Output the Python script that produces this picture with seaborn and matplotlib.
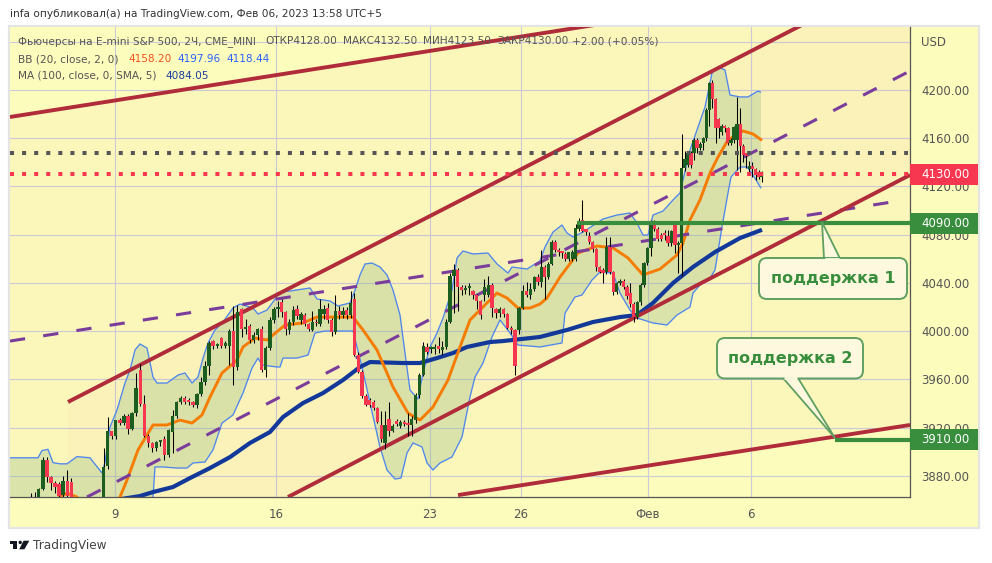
import numpy as np
import pandas as pd
import matplotlib
matplotlib.use("Agg")
import matplotlib.pyplot as plt
from matplotlib.patches import FancyBboxPatch, Polygon, Rectangle, Circle
import seaborn as sns

# ---------- candles (price, 2H bars) ----------
opens = [3850,3855,3860,3869,3893,3879,3874,3873,3864,3876,
3875,3855,3848,3842,3838,3836,3842,3848,3852,3888,
3917,3913,3926,3924,3930,3919,3932,3968,3940,3913,
3907,3903,3908,3911,3897,3916,3930,3941,3945,3943,
3941,3939,3948,3958,3971,3992,3988,3994,3988,3988,
4000,3970,4018,4002,4004,3993,3997,4002,3968,3986,
4009,4018,4024.5,4016,4001,4008,4018,4009,4013,4006,
4001,4008,4006,4014,4019,4009,3999,4017,4013,4017.5,
4013,4027,3980,3966,3946,3943,3941,3936,3922,3907,
3927,3917,3925.5,3921,3925,3923.6,3922,3926,3947,3964,
3987,3985,3985,3987.7,3984,3987,4008,4046,4051,4037,
4034,4036,4033,4030,4025,4030,4030,4038,4018,4015,
4018,4014,4003,4001,4001,4019,4033,4030,4035,4044.6,
4041,4053,4045,4056,4074,4066,4064.6,4063.8,4059.6,4059.6,
4059.6,4085,4092,4084.5,4079.2,4074.3,4068,4053,4050.8,4049.4,
4070,4049.4,4032.8,4039.7,4041.9,4037,4032,4022.6,4011.5,4024.5,
4038.3,4056.3,4068.7,4091,4085,4079.8,4079.8,4079,4072.9,4088,
4071.5,4073,4135,4137.8,4147.5,4147.5,4158.6,4151.7,4155.8,4159.9,
4183.4,4206,4192.3,4175.7,4165.5,4170.5,4168.2,4156.4,4158.6,4158.6,
4171.8,4153.6,4147.5,4134.2,4137,4134.2,4132,4128]
closes = [3860,3860,3869,3893,3879,3874,3871,3863,3876,3863,
3862,3848,3842,3838,3836,3842,3848,3852,3887,3917,
3913,3926,3924,3930,3919,3932,3953,3940,3913,3907,
3903,3908,3910,3897,3918,3930,3941,3945,3941,3941,
3939,3948,3958,3971,3990,3988,3988.5,3988,3990,4000,
3970,4016,4002,4003,3993,3997,4002,3968,3986,4009,
4018,4020,4016,4001.5,4008,4017.5,4012.5,4014,4006,4001.5,
4008,4006.5,4018,4018,4009,3999,4017,4013.5,4017,4013.5,
4023,3980,3966,3946,3939,3939,3936,3925,3911,3922,
3917,3921,3923,3925,3923,3922,3927,3947,3964,3988,
3983,3985.5,3986,3985,3987,4008,4046,4051,4037,4034,
4036,4037,4030,4025,4013,4037,4038,4019,4015,4018,
4014,4003,4001,3971,4019,4033,4030,4035,4044.6,4041,
4053,4045,4056,4074.3,4067.4,4064.6,4063.2,4059.6,4065.4,4065.4,
4085.3,4091.7,4083.4,4082.5,4074.3,4068,4053,4049.4,4048,4070.1,
4049.4,4032.8,4039.7,4041.9,4037,4029.2,4022.6,4011.5,4024.5,4038.3,
4056.3,4068.7,4090.8,4084.5,4076.2,4076.2,4078.4,4072.9,4083.4,4071.5,
4072.9,4135,4142.5,4147.5,4137.8,4158.6,4151.7,4155.2,4159.9,4183.4,
4206.1,4192.3,4168.2,4168.2,4170.5,4168.2,4156.4,4158.6,4169,4171.8,
4153.6,4146.1,4145.3,4137,4134.2,4129.5,4128,4130]
highs = [3866,3867,3870,3896,3896,3880,3876,3875,3880,3885,
3878,3856,3852,3846,3842,3846,3852,3858,3903,3929,
3917,3926,3928,3931,3931,3933,3965,3973,3947,3915,
3908,3909,3910,3913,3919,3935,3942,3946,3946,3945,
3942,3949,3962,3975,3992,3993,3990,3995,3992,4002,
4021,4022,4019,4010,4006,3999,4003,4004,3988,4012,
4020,4025,4027,4017,4010,4021,4022,4016,4015,4007,
4017,4010,4027,4022,4023,4011,4030,4021,4020,4020,
4033,4032,3983,3968,3948,3945,3943,3937,3934,3934,
3941,3923,3927,3926,3926,3932,3930,3949,3965,3991,
3990,3988,3989,3995,3992,4010,4048,4056,4052,4038,
4038,4040,4034,4031,4026,4043,4046,4040,4019,4020,
4019,4015,4004,4002,4020,4038,4041,4040,4046,4047,
4067,4055,4057,4076,4076,4069,4066,4066,4066,4067,
4089,4094,4109,4085,4082,4075,4069,4054,4052,4078,
4078,4050,4041,4043,4043,4038,4040,4024,4025,4040,
4057,4070,4092,4092,4086,4081,4084,4084,4084,4090,
4075,4163.5,4149,4149,4149,4160,4160,4157,4161,4185,
4207,4208,4193,4177,4172,4171,4169,4160,4170,4194,
4185,4155,4148,4141,4140,4135,4134,4132.5]
lows = [3845,3845,3850,3868,3875,3868,3866,3855,3860,3858,
3850,3840,3838,3832,3830,3832,3838,3845,3850,3886,
3911,3911,3922,3922,3915,3918,3930,3938,3912,3904,
3900,3901,3905,3893,3896,3899,3928,3940,3940,3939,
3937,3936,3946,3955,3964,3985,3986,3986,3986,3972,
3955,3968,3995,3998,3990,3990,3993,3966,3962,3984,
4007,4012,4012,3997,3998,4005,4010,4006,4004,4000,
4000,4004,4004,4010,4007,3996,3998,4010,4011,4010,
4011,3979,3965,3945,3938,3937,3935,3924,3908,3902,
3913,3916,3921,3920,3921,3913,3913,3924,3945,3963,
3981,3982,3981,3982,3980,3985,4007,4015,4017,4030,
4031,4030,4027,4018,4010,4025,4028,4012,4011,4012,
4012,4002,3998,3964,3998,4018,4028,4027,4033,4038,
4037,4027,4043,4055,4066,4062,4061,4058,4058,4058,
4058,4083,4082,4080,4072,4066,4050,4048,4040,4047,
4047,4030,4031,4038,4035,4027,4020,4008,4010,4022,
4037,4055,4062,4083,4075,4075,4076,4071,4071,4064.6,
4048,4046,4133,4136,4135,4142,4148,4150,4150,4158,
4170,4185,4155.8,4160,4163,4165,4154,4154,4156,4133.7,
4132,4140,4135,4130,4128,4125,4126,4123.5]

# bar index -> time-axis position (one unit = one screen pixel column)
bar_anchor_idx = [0, 61, 129, 171, 197]
bar_anchor_pos = [30.7, 278, 538, 681.7, 761.7]

# ---------- Bollinger bands and moving average ----------
upper_x = [10,38,42,48,53,60,67,77,90,102,105,110,117,125,130,135,140,147,153,157,167,178,185,192,198,203,208,215,223,233,240,253,258,267,273,280,290,310,317,330,338,350,355,360,365,372,380,387,393,400,405,410,418,423,430,437,443,452,457,463,473,488,497,508,512,527,540,545,553,562,567,573,583,603,617,630,637,643,648,653,663,673,680,690,705,712,718,725,730,740,748,758,761]
upper_y = [3895,3895,3901,3902,3891,3890,3890,3896,3895,3882.4,3891.5,3920.5,3934.6,3957,3967.8,3984.4,3989.4,3986,3962,3957,3957,3963.6,3965.3,3957,3962,3977.7,3990.2,4001,4007.6,4019.2,4022.5,4019.2,4014.2,4017.5,4024.2,4032.5,4033.3,4035.8,4026.7,4025,4020.9,4023.4,4034.1,4046.6,4055.7,4056.5,4053.2,4046.6,4034.1,4013.4,3981.9,3951.2,3943.8,3965.3,3986.9,3998.5,4010.9,4034.1,4060.7,4066.5,4064,4064.8,4055.7,4048.2,4053.2,4051.5,4058.2,4069.8,4082.2,4088,4081.4,4078.1,4082.2,4093,4096.3,4098,4089.7,4079.7,4079.7,4096.3,4099.6,4108.8,4114.6,4150.2,4185.9,4214.1,4219,4216.6,4195.8,4194.2,4194.2,4199.1,4197.96]
lower_x = [10,140,150,153,155,163,177,187,193,205,213,222,233,243,252,258,262,277,280,283,297,308,315,325,353,357,362,370,380,387,395,401,407,413,422,427,433,440,452,462,470,475,483,492,500,510,518,540,562,565,575,582,592,600,613,620,630,637,653,667,677,690,693,700,710,715,722,728,731,740,747,753,761]
lower_y = [3843.4,3826.8,3851.7,3862.5,3887.4,3887.4,3886.5,3886.5,3890.7,3891.5,3901.5,3923.8,3930.5,3948.7,3969.4,3977.7,3971.9,3970.3,3970.3,3977.7,3977.7,3980.2,3998.5,4000.1,4000.1,3986.9,3970.3,3940.4,3903.9,3884.9,3877.4,3878.2,3899,3907.3,3904,3890.7,3884.9,3890.7,3895.7,3912.2,3945.4,3962,3973.6,3995.2,4009.3,3998.5,3988.5,3986.9,3990.2,4015,4028.3,4030,4042.4,4049,4048.2,4031.6,4017.5,4010.9,4006.8,4005.1,4013.4,4020,4031.6,4038.3,4044,4050.7,4086.4,4114.6,4127.8,4136.1,4136.1,4129.5,4118.44]
basis_x = [55,67,77,85,110,120,127,138,153,167,180,192,202,210,222,237,243,255,267,285,303,317,353,363,377,393,408,420,433,448,460,470,487,497,507,518,530,540,547,560,578,597,613,628,643,660,677,683,690,700,710,718,728,743,753,762]
basis_y = [3860,3865.8,3862.5,3856,3851.7,3862.5,3876.6,3901.5,3922.2,3922.2,3926.3,3923.8,3930.5,3945.4,3965.3,3976.1,3986.9,3994.3,3992.7,4005.1,4006.8,4011.7,4011.7,4001,3984.4,3953.7,3932.1,3926.3,3937.1,3959.5,3986.9,4009.3,4023.4,4031.6,4027.5,4019.2,4019.2,4022.5,4027.5,4044.9,4064.8,4070.6,4069,4060.7,4046.6,4051.5,4063.2,4073.1,4092.2,4108.8,4131.1,4144.4,4158.5,4166,4163.5,4158.2]
ma_x = [100,140,153,173,190,210,230,250,270,283,303,323,343,360,370,403,420,437,453,467,490,503,540,567,593,620,637,653,673,693,715,740,762]
ma_y = [3858,3863.3,3866.6,3870.8,3878.2,3886.5,3895.6,3907.3,3916.4,3928.8,3940.4,3948.7,3959.5,3970.3,3974.4,3973.6,3973.6,3977.7,3981.9,3986.9,3991,3991.8,3995.2,4001,4007.6,4011.7,4013.4,4023.4,4039.9,4053.2,4065.6,4077.2,4084.05]

# ---------- drawings ----------
steep_top_x, steep_top_y = [68, 910], [3941.3, 4299.9]
steep_low_x, steep_low_y = [68, 910], [3768, 4129.5]
steep_low_seg_x, steep_low_seg_y = [288, 910], [3862.5, 4129.5]
steep_mid_x, steep_mid_y = [87, 908], [3862.5, 4214.9]
flat_top_x, flat_top_y = [10, 910], [4177.6, 4295]
flat_low_x, flat_low_y = [10, 910], [3806.6, 3922.2]
flat_low_seg_x, flat_low_seg_y = [458, 910], [3864.1, 3922.2]
flat_mid_x, flat_mid_y = [10, 905], [3991.8, 4108.8]
level_dark = 4147.7
level_last = 4130.0
support_1 = 4090.0
support_2 = 3910.0
support_1_start = 577
support_2_start = 835

price_ticks = [4200, 4160, 4120, 4080, 4040, 4000, 3960, 3920, 3880]
grid_prices = [4240] + price_ticks
date_pos = [115, 276, 430, 521, 648, 751]
date_labels = ["9", "16", "23", "26", "Фев", "6"]

BG = "#fcfcbc"
RED = "#f7374f"
GREEN = "#388e3c"
CANDLE_G = "#1b5e20"
CHAN = "#b02c3a"
PURPLE = "#7a3d9c"
GRAY = "#555555"

sns.set_style("white")
plt.rcParams["font.family"] = ["DejaVu Sans"]

W, H = 992, 563
fig = plt.figure(figsize=(W / 100, H / 100), dpi=100, facecolor="white")

# card behind the chart
back = fig.add_axes([0, 0, 1, 1], zorder=0)
back.set_xlim(0, W); back.set_ylim(H, 0); back.axis("off")
back.add_patch(Rectangle((9, 26), 970, 502, fc=BG, ec="#e4e4e4", lw=1.6))

ax = fig.add_axes([10 / W, 1 - 497 / H, 900 / W, 470 / H], zorder=1)
ax.set_xlim(10, 910)
ax.set_ylim(3862.5, 4252.2)
ax.set_facecolor(BG)
ax.set_axisbelow(True)

for p in grid_prices:
    ax.axhline(p, color="#cbcbdc", lw=0.8, zorder=1)
for x in date_pos:
    ax.axvline(x, color="#cbcbdc", lw=0.8, zorder=1)

# channel backgrounds
TINT = "#f09a96"
ax.fill_between(flat_top_x, flat_low_y, flat_top_y, color=TINT, alpha=0.05, lw=0, zorder=1.2)
ax.fill_between(steep_top_x, steep_low_y, steep_top_y, color=TINT, alpha=0.05, lw=0, zorder=1.2)

# Bollinger fill
ax.fill(np.r_[upper_x, lower_x[::-1]], np.r_[upper_y, lower_y[::-1]],
        color="#83b480", alpha=0.27, lw=0, zorder=1.5)


def line(x, y, color, lw, z, dashes=None):
    frame = pd.DataFrame({"x": x, "y": y})
    sns.lineplot(data=frame, x="x", y="y", ax=ax, color=color, linewidth=lw,
                 estimator=None, sort=False, legend=False, zorder=z)
    ln = ax.get_lines()[-1]
    ln.set_solid_capstyle("butt")
    if dashes:
        ln.set_dashes(dashes)
        ln.set_dash_capstyle("butt")


line(upper_x, upper_y, "#4f86ee", 0.95, 2)
line(lower_x, lower_y, "#4f86ee", 0.95, 2)
line(ma_x, ma_y, "#12399a", 3.0, 2.5)
line(basis_x, basis_y, "#f57c00", 2.1, 2.6)

for x, y in [(steep_mid_x, steep_mid_y), (flat_mid_x, flat_mid_y)]:
    line(x, y, PURPLE, 2.2, 3, dashes=(5, 6))
line(steep_top_x, steep_top_y, CHAN, 2.8, 3)
line(steep_low_seg_x, steep_low_seg_y, CHAN, 2.8, 3)
line(flat_top_x, flat_top_y, CHAN, 2.8, 3)
line(flat_low_seg_x, flat_low_seg_y, CHAN, 2.8, 3)

# candles
bar_x = np.interp(np.arange(len(closes)), bar_anchor_idx, bar_anchor_pos)
o, c, hi, lo = map(np.array, (opens, closes, highs, lows))
ax.vlines(bar_x, lo, hi, color="black", lw=0.75, zorder=4)
ax.bar(bar_x, np.where(np.abs(c - o) < 1.5, 1.5, c - o), bottom=o, width=3.3,
       color=np.where(c >= o, CANDLE_G, RED), lw=0, zorder=4.5)

# levels
ax.hlines(level_dark, 10, 908, color=GRAY, lw=2.9, linestyle=(0, (1, 2)), zorder=5)
ax.hlines(level_last, 10, 908, color=RED, lw=2.9, linestyle=(0, (1, 2)), zorder=5)
ax.hlines(support_1, support_1_start, 910, color=GREEN, lw=3.0, zorder=5)
ax.hlines(support_2, support_2_start, 910, color=GREEN, lw=3.0, zorder=5)

# axes
for s in ("top", "left"):
    ax.spines[s].set_visible(False)
for s in ("right", "bottom"):
    ax.spines[s].set_visible(True)
    ax.spines[s].set_color(GRAY)
    ax.spines[s].set_linewidth(0.9)
ax.yaxis.tick_right()
ax.set_yticks(price_ticks)
ax.set_yticklabels([f"{p:.2f}" for p in price_ticks])
ax.set_xticks(date_pos)
ax.set_xticklabels(date_labels)
ax.tick_params(axis="y", length=0, pad=8, labelsize=8.5, labelcolor=GRAY)
ax.tick_params(axis="x", length=0, pad=8, labelsize=8.5, labelcolor=GRAY)
ax.set_xlabel(""); ax.set_ylabel("")

# overlay in screen units
ov = fig.add_axes([0, 0, 1, 1], zorder=3)
ov.set_xlim(0, W); ov.set_ylim(H, 0); ov.axis("off"); ov.patch.set_alpha(0)


def t(x, y, s, color=GRAY, size=7.6, **kw):
    ov.text(x, y, s, color=color, fontsize=size, va="center", ha=kw.pop("ha", "left"), **kw)


t(10, 14, "infa опубликовал(а) на TradingView.com, Фев 06, 2023 13:58 UTC+5", color="#333333")
t(18, 41.5, "Фьючерсы на E-mini S&P 500, 2Ч, CME_MINI")
t(265, 41.5, "ОТКР4128.00")
t(343, 41.5, "МАКС4132.50")
t(423, 41.5, "МИН4123.50")
t(497, 41.5, "ЗАКР4130.00")
t(572, 41.5, "+2.00 (+0.05%)")
t(18, 59, "BB (20, close, 2, 0)")
t(128, 59, "4158.20", color="#f4511e")
t(177, 59, "4197.96", color="#2962ff")
t(226, 59, "4118.44", color="#2962ff")
t(18, 76, "MA (100, close, 0, SMA, 5)")
t(165, 76, "4084.05", color="#1a3fa0")
t(921, 42, "USD", size=8.5)

for price_y, label, col in [(174.5, "4130.00", RED), (223.5, "4090.00", GREEN), (439.5, "3910.00", GREEN)]:
    ov.add_patch(Rectangle((910, price_y - 10.5), 68, 21, fc=col, ec="none"))
    t(921, price_y, label, color="white", size=8.5)

# callouts
FACE = "#fdf8de"
EDGE = "#5f9f62"
for (bx, by, bw, bh), pointer, label in [
    ((759, 258, 148, 41), [(824, 258.5), (822, 222), (840, 258.5)], "поддержка 1"),
    ((717, 338, 146, 40.5), [(783, 378), (835, 438), (798, 378)], "поддержка 2"),
]:
    ov.add_patch(Polygon(pointer, closed=True, fc=FACE, ec=EDGE, lw=1.3, zorder=6))
    ov.add_patch(FancyBboxPatch((bx, by), bw, bh, boxstyle="round,pad=0,rounding_size=8",
                                fc=FACE, ec=EDGE, lw=1.4, zorder=6))
    ov.plot([pointer[0][0] + 1, pointer[2][0] - 1], [pointer[0][1], pointer[2][1]],
            color=FACE, lw=2, zorder=6.5, solid_capstyle="butt")
    ov.text(bx + bw / 2, by + bh / 2 + 0.5, label, color=GREEN, fontsize=11.5, fontweight="bold",
            ha="center", va="center", zorder=7)

# footer logo and name
K = "#131722"
ov.add_patch(Polygon([(10, 540.7), (17.3, 540.7), (17.3, 549.3), (12.7, 549.3), (12.7, 543.6), (10, 543.6)], fc=K, ec="none"))
ov.add_patch(Circle((20.2, 542.4), 1.7, fc=K, ec="none"))
ov.add_patch(Polygon([(23.6, 540.7), (29.3, 540.7), (24.4, 549.3), (19.2, 549.3)], fc=K, ec="none"))
t(33, 545.5, "TradingView", color="#444444", size=8.7)

fig.savefig("out.png", dpi=100, facecolor="white")
